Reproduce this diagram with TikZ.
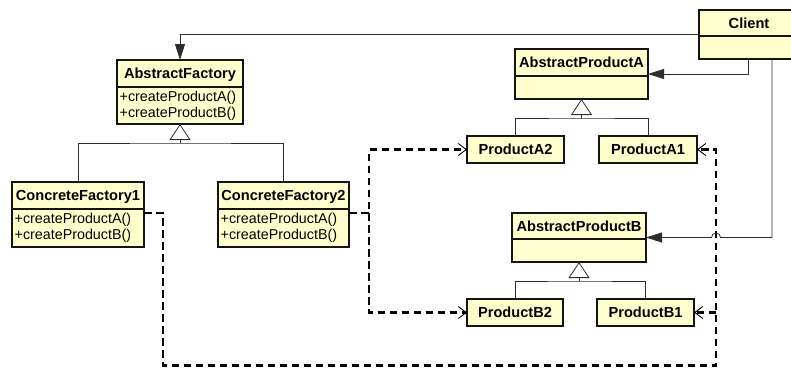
\documentclass[tikz,border=0pt]{standalone}
\usepackage{fontspec}
\setmainfont{Liberation Sans}
\usetikzlibrary{arrows.meta,calc}

\definecolor{classfill}{RGB}{255,255,206}
\definecolor{classedge}{RGB}{20,20,20}
\definecolor{connline}{RGB}{45,45,45}

\tikzset{
  classbox/.style={draw=classedge, fill=classfill, line width=1.2pt,
    inner sep=0pt, outer sep=0pt},
  classline/.style={draw=classedge, line width=1.2pt},
  titletext/.style={inner sep=0pt, font=\fontsize{14.6}{16}\selectfont\bfseries},
  opstext/.style={inner sep=0pt, font=\fontsize{14.3}{16}\selectfont},
  conn/.style={draw=connline, line width=0.8pt},
  assoc/.style={conn, -{Triangle[length=16pt,width=10pt]}},
  gen/.style={conn, -{Triangle[length=16pt,width=21pt,fill=white]}},
  dep/.style={draw=black, line width=2.2pt, dash pattern=on 7.5pt off 4.5pt,
    -{Straight Barb[length=8pt,width=12pt,line width=0.9pt]}},
}

% \umlclass{name}{left}{top}{width}{height}{title}
\newcommand\umlclass[6]{%
  \node[classbox, minimum width=#4pt, minimum height=#5pt, anchor=north west]
    (#1) at (#2,#3) {};
  \node[titletext, anchor=base] (#1-title) at ([yshift=-18pt]#1.north) {#6};
}
% \umldivider{name}{offset from top}
\newcommand\umldivider[2]{%
  \draw[classline] ([yshift=-#2pt]#1.north west) -- ([yshift=-#2pt]#1.north east);
}
% \umlops{name}{divider offset}{first operation}{second operation}
\newcommand\umlops[4]{%
  \node[opstext, anchor=base west] (#1-opa) at ([xshift=2.5pt,yshift=-#2pt-14pt]#1.north west) {#3};
  \node[opstext, anchor=base west] (#1-opb) at ([xshift=2.5pt,yshift=-#2pt-30pt]#1.north west) {#4};
}

\begin{document}
\begin{tikzpicture}[x=1pt,y=-1pt]
\useasboundingbox (0,0) rectangle (791,367);

% classes
\umlclass{client}{699}{10}{100}{49}{Client}
\umldivider{client}{26}

\umlclass{af}{117}{60}{126}{64}{AbstractFactory}
\umldivider{af}{27}
\umlops{af}{27}{+createProductA()}{+createProductB()}

\umlclass{cf1}{12}{182}{132}{65}{ConcreteFactory1}
\umldivider{cf1}{27}
\umlops{cf1}{27}{+createProductA()}{+createProductB()}

\umlclass{cf2}{218}{182}{131}{65}{ConcreteFactory2}
\umldivider{cf2}{27}
\umlops{cf2}{27}{+createProductA()}{+createProductB()}

\umlclass{apa}{515}{49}{133}{50}{AbstractProductA}
\umldivider{apa}{27}

\umlclass{apb}{512}{213}{134}{49}{AbstractProductB}
\umldivider{apb}{26}

\umlclass{pa2}{467}{136}{97}{27}{ProductA2}
\umlclass{pa1}{599}{136}{98}{27}{ProductA1}
\umlclass{pb2}{467}{299}{96}{27}{ProductB2}
\umlclass{pb1}{597}{299}{97}{27}{ProductB1}

% generalisations
\coordinate (afj) at ($(af.south)+(0,19)$);
\draw[conn] (cf1.north) |- (afj) -| (cf2.north);
\draw[gen] (afj) -- (af.south);

\coordinate (apaj) at ($(apa.south)+(0,19)$);
\draw[conn] (pa2.north) |- (apaj) -| (pa1.north);
\draw[gen] (apaj) -- (apa.south);

\coordinate (apbj) at ($(apb.south)+(0,19)$);
\draw[conn] (pb2.north) |- (apbj) -| (pb1.north);
\draw[gen] (apbj) -- (apb.south);

% dependencies of the concrete factories
\coordinate (d1a) at (163,213);
\coordinate (d1b) at (163,365.5);
\coordinate (d1c) at (716,365.5);
\draw[dep] (cf1.east |- d1a) -- (d1a) -- (d1b) -- (d1c) |- (pa1.east);
\draw[dep] (d1c |- pb1.east) -- (pb1.east);

\coordinate (d2) at (369,213);
\draw[dep] (cf2.east |- d2) -- (d2) |- (pa2.west);
\draw[dep] (d2) |- (pb2.west);

% client associations
\draw[assoc] (client.west |- 0,34) -| (af.north);
\draw[assoc] ([xshift=-1pt]client.south) |- (apa.east);
\coordinate (cb) at ([xshift=23pt]client.south);
\draw[assoc] (cb) -- (cb |- apb.east) -- ($(d1c |- apb.east)+(4.5,0)$)
  arc[start angle=0, end angle=180, radius=4.5pt] -- (apb.east);
\end{tikzpicture}
\end{document}
